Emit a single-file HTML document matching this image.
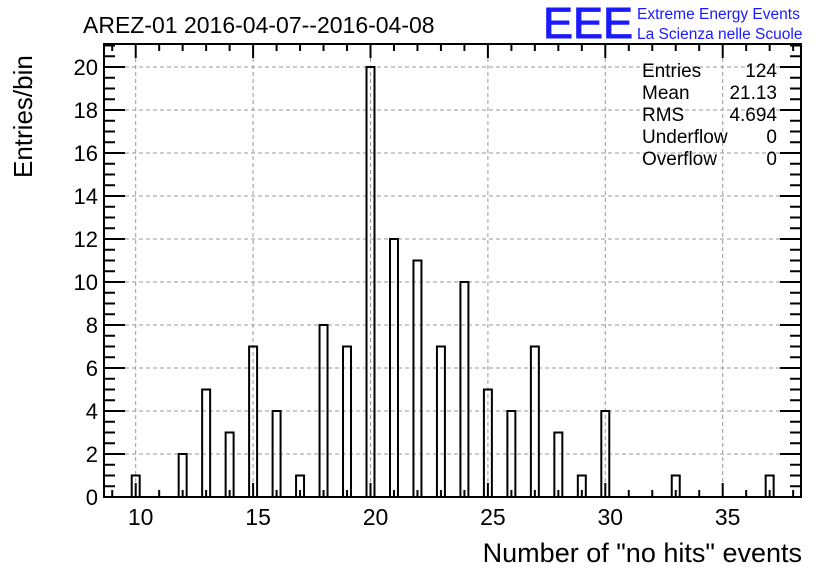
<!DOCTYPE html>
<html><head><meta charset="utf-8"><style>
body{margin:0;background:#fff;}
svg{display:block;font-family:"Liberation Sans",sans-serif;}
</style></head><body>
<svg id="c" width="836" height="572" viewBox="0 0 836 572">
<rect width="836" height="572" fill="#fff"/>
<text x="83" y="33" font-size="23">AREZ-01 2016-04-07--2016-04-08</text>
<g>
<text x="543" y="38" font-size="44" fill="#1a1aff" stroke="#1a1aff" stroke-width="1" textLength="90" lengthAdjust="spacingAndGlyphs">EEE</text>
<text x="637" y="19" font-size="15.5" fill="#1a1aff">Extreme Energy Events</text>
<text x="637" y="39" font-size="15.5" fill="#1a1aff">La Scienza nelle Scuole</text>
</g>
<g id="grid"></g>
<g id="bars"></g>
<g id="axes"></g>
<g font-size="19">
<text x="642" y="77">Entries</text><text x="777" y="77" text-anchor="end">124</text>
<text x="642" y="99">Mean</text><text x="777" y="99" text-anchor="end">21.13</text>
<text x="642" y="121">RMS</text><text x="777" y="121" text-anchor="end">4.694</text>
<text x="642" y="143">Underflow</text><text x="777" y="143" text-anchor="end">0</text>
<text x="642" y="165">Overflow</text><text x="777" y="165" text-anchor="end">0</text>
</g>
<text x="802" y="562" font-size="27" text-anchor="end">Number of "no hits" events</text>
<text transform="translate(32,178) rotate(-90)" font-size="26">Entries/bin</text>
</svg>
<script>
const binCenters=[10,12,13,14,15,16,17,18,19,20,21,22,23,24,25,26,27,28,29,30,33,37];
const binCounts=[1,2,5,3,7,4,1,8,7,20,12,11,7,10,5,4,7,3,1,4,1,1];
const xTickLabels=[10,15,20,25,30,35];
const yTickLabels=[0,2,4,6,8,10,12,14,16,18,20];
const NS="http://www.w3.org/2000/svg";
const L=104,R=801,T=44,B=497;
const X=v=>135.7+(v-10)*23.48;
const Y=v=>B-v*21.5;
function mk(tag,attrs,parent){const e=document.createElementNS(NS,tag);for(const k in attrs)e.setAttribute(k,attrs[k]);parent.appendChild(e);return e;}
const grid=document.getElementById('grid'),bars=document.getElementById('bars'),axes=document.getElementById('axes');
xTickLabels.forEach(v=>{const l=mk('line',{x1:X(v),x2:X(v),y1:T,y2:B,stroke:'#999','stroke-dasharray':'4,3'},grid);
});
yTickLabels.forEach(v=>{if(v===0)return;const l=mk('line',{x1:L,x2:R,y1:Y(v),y2:Y(v),stroke:'#999','stroke-dasharray':'4,3'},grid);
});
binCenters.forEach((c,i)=>{const x0=X(c-0.17),x1=X(c+0.17);
const p=mk('path',{d:`M${x0},${B} V${Y(binCounts[i])} H${x1} V${B}`,fill:'none',stroke:'#000','stroke-width':2},bars);
});
mk('rect',{x:L,y:T,width:R-L,height:B-T,fill:'none',stroke:'#000','stroke-width':2},axes);
for(let v=9;v<=38;v++){const maj=v%5===0;const len=maj?14:7;
mk('line',{x1:X(v),x2:X(v),y1:B,y2:B-len,stroke:'#000','stroke-width':2},axes);
mk('line',{x1:X(v),x2:X(v),y1:T,y2:T+len,stroke:'#000','stroke-width':2},axes);}
for(let v=0;v<=21;v+=0.5){const maj=(v%2===0);const len=maj?21:11;
mk('line',{x1:L,x2:L+len,y1:Y(v),y2:Y(v),stroke:'#000','stroke-width':2},axes);
mk('line',{x1:R,x2:R-len,y1:Y(v),y2:Y(v),stroke:'#000','stroke-width':2},axes);}
xTickLabels.forEach(v=>{const t=mk('text',{x:X(v)+5,y:525,'font-size':23,'text-anchor':'middle'},axes);t.textContent=v;
});
yTickLabels.forEach(v=>{const t=mk('text',{x:98,y:Y(v)+8,'font-size':22,'text-anchor':'end'},axes);t.textContent=v;
});
</script>
</body></html>
